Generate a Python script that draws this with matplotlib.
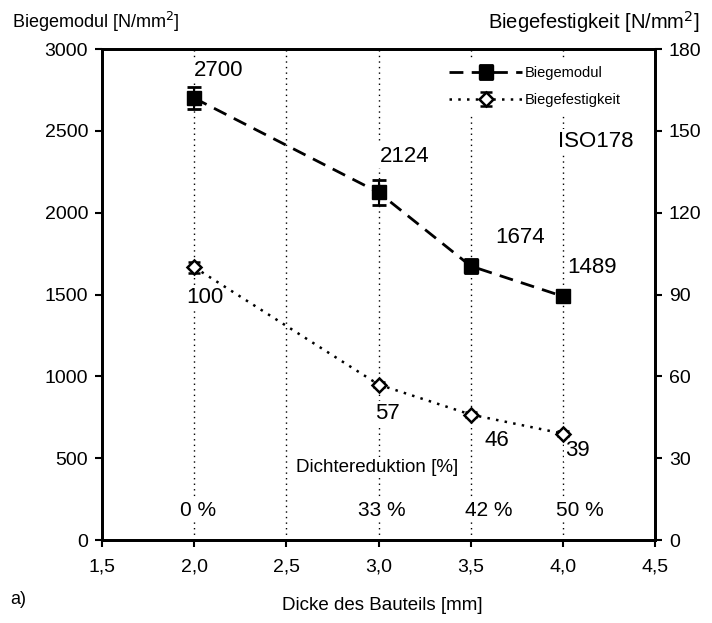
import numpy as np
import matplotlib.pyplot as plt
from matplotlib.ticker import FuncFormatter

plt.rcParams['font.family'] = ['Liberation Sans', 'DejaVu Sans']

# Data
dicke = [2.0, 3.0, 3.5, 4.0]
biegemodul = [2700, 2124, 1674, 1489]
biegemodul_err = [65, 75, 40, 15]
biegefestigkeit = [100, 57, 46, 39]
biegefestigkeit_err = [2, 1, 1, 1]
dichtereduktion = ['0 %', '33 %', '42 %', '50 %']
grid_x = [2.0, 2.5, 3.0, 3.5, 4.0]

fig = plt.figure(figsize=(7.12, 6.23), dpi=100)
ax = fig.add_axes([0.1433, 0.1332, 0.7767, 0.7881])
ax2 = ax.twinx()

ax.set_xlim(1.5, 4.5)
ax.set_ylim(0, 3000)
ax2.set_ylim(0, 180)
ax.set_xticks(np.arange(1.5, 4.51, 0.5))
ax.set_yticks(np.arange(0, 3001, 500))
ax2.set_yticks(np.arange(0, 181, 30))
ax.xaxis.set_major_formatter(FuncFormatter(lambda v, p: f'{v:.1f}'.replace('.', ',')))

for a in (ax, ax2):
    for s in a.spines.values():
        s.set_linewidth(2)
    a.tick_params(labelsize=14, width=1.5, length=5, direction='out', pad=5)
ax.tick_params(axis='x', pad=8)

# vertical dotted lines
for gx in grid_x:
    ax.axvline(gx, color='black', ls=(0, (1, 3)), lw=1, zorder=0)

# Biegemodul on left axis
ax.errorbar(dicke, biegemodul, yerr=biegemodul_err, color='black', ls=(0, (5, 3)),
            lw=2, marker='s', ms=10, capsize=5, elinewidth=1.5, capthick=2,
            label='Biegemodul', zorder=5)

# Biegefestigkeit on right axis
ax2.errorbar(dicke, biegefestigkeit, yerr=biegefestigkeit_err, color='black',
             ls=(0, (1, 2.5)), lw=1.8, marker='D', ms=7, mfc='white', mec='black',
             mew=1.8, capsize=4, elinewidth=1.2, label='Biegefestigkeit', zorder=5)

box = dict(facecolor='white', edgecolor='none', pad=1)
fs = 16
# value labels Biegemodul
ax.text(2.13, 2871, '2700', fontsize=fs, ha='center', va='center', bbox=box)
ax.text(3.14, 2346, '2124', fontsize=fs, ha='center', va='center', bbox=box)
ax.text(3.77, 1851, '1674', fontsize=fs, ha='center', va='center', bbox=box)
ax.text(4.16, 1668, '1489', fontsize=fs, ha='center', va='center', bbox=box)
# value labels Biegefestigkeit
ax.text(2.06, 1484, '100', fontsize=fs, ha='center', va='center', bbox=box)
ax.text(3.05, 776, '57', fontsize=fs, ha='center', va='center', bbox=box)
ax.text(3.64, 611, '46', fontsize=fs, ha='center', va='center', bbox=box)
ax.text(4.08, 550, '39', fontsize=fs, ha='center', va='center', bbox=box)

ax.text(4.18, 2437, 'ISO178', fontsize=fs, ha='center', va='center', bbox=box)
ax.text(2.99, 446, 'Dichtereduktion [%]', fontsize=13.5, ha='center', va='center', bbox=box)
for x, lab, off in zip(dicke, dichtereduktion, [0.02, 0.02, 0.1, 0.09]):
    ax.text(x + off, 183, lab, fontsize=15, ha='center', va='center', bbox=box)

# legend
h1, l1 = ax.get_legend_handles_labels()
h2, l2 = ax2.get_legend_handles_labels()
leg = ax2.legend(h1 + h2, l1 + l2, loc='upper right', bbox_to_anchor=(0.965, 0.995),
                 fontsize=10.5, handlelength=5.0, frameon=True, framealpha=1,
                 edgecolor='none', borderpad=0.5, labelspacing=0.9, handletextpad=0.2)
leg.set_zorder(20)

fig.text(0.017, 0.965, 'Biegemodul [N/mm$^2$]', fontsize=13, ha='left', va='center')
fig.text(0.983, 0.965, 'Biegefestigkeit [N/mm$^2$]', fontsize=14.5, ha='right', va='center')
fig.text(0.537, 0.028, 'Dicke des Bauteils [mm]', fontsize=13.5, ha='center', va='center')
fig.text(0.014, 0.037, 'a)', fontsize=13, ha='left', va='center')

fig.savefig('out.png', dpi=100)
